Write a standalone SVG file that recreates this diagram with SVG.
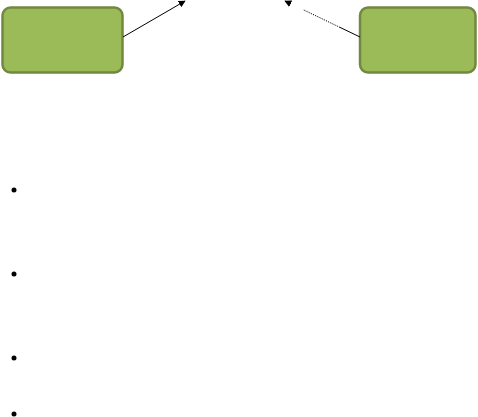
<svg xmlns="http://www.w3.org/2000/svg" width="478" height="417" viewBox="0 0 478 417">
<style>
.box{fill:#9bbb59;stroke:#71893f;stroke-width:2.5}
.conn{stroke:#000;stroke-width:1;fill:none}
.dot{stroke-dasharray:1.2,1.2}
.bullet{fill:#000}
</style>
<defs>
<marker id="ah" viewBox="0 0 10 10" refX="9" refY="5" markerWidth="7" markerHeight="7" markerUnits="userSpaceOnUse" orient="auto">
<path d="M0,0 L10,5 L0,10 z" fill="#000"/>
</marker>
</defs>
<rect width="478" height="417" fill="#fff"/>
<g id="node-left"><rect class="box" x="2.5" y="7.5" width="120" height="65" rx="8"/></g>
<g id="node-right"><rect class="box" x="360" y="7.5" width="115.5" height="65" rx="8"/></g>
<g id="connectors">
<line class="conn" x1="123" y1="37" x2="185" y2="1" marker-end="url(#ah)"/>
<path class="conn" d="M360,37 L340,27.4"/>
<path class="conn dot" d="M340,27.4 L303,9.6"/>
<path class="conn" d="M291,3.9 L285,1" marker-end="url(#ah)"/>
</g>
<g id="bullets">
<circle class="bullet" cx="14" cy="190" r="2.5"/>
<circle class="bullet" cx="14" cy="274" r="2.5"/>
<circle class="bullet" cx="14" cy="358" r="2.5"/>
<circle class="bullet" cx="14" cy="414" r="2.5"/>
</g>
</svg>
